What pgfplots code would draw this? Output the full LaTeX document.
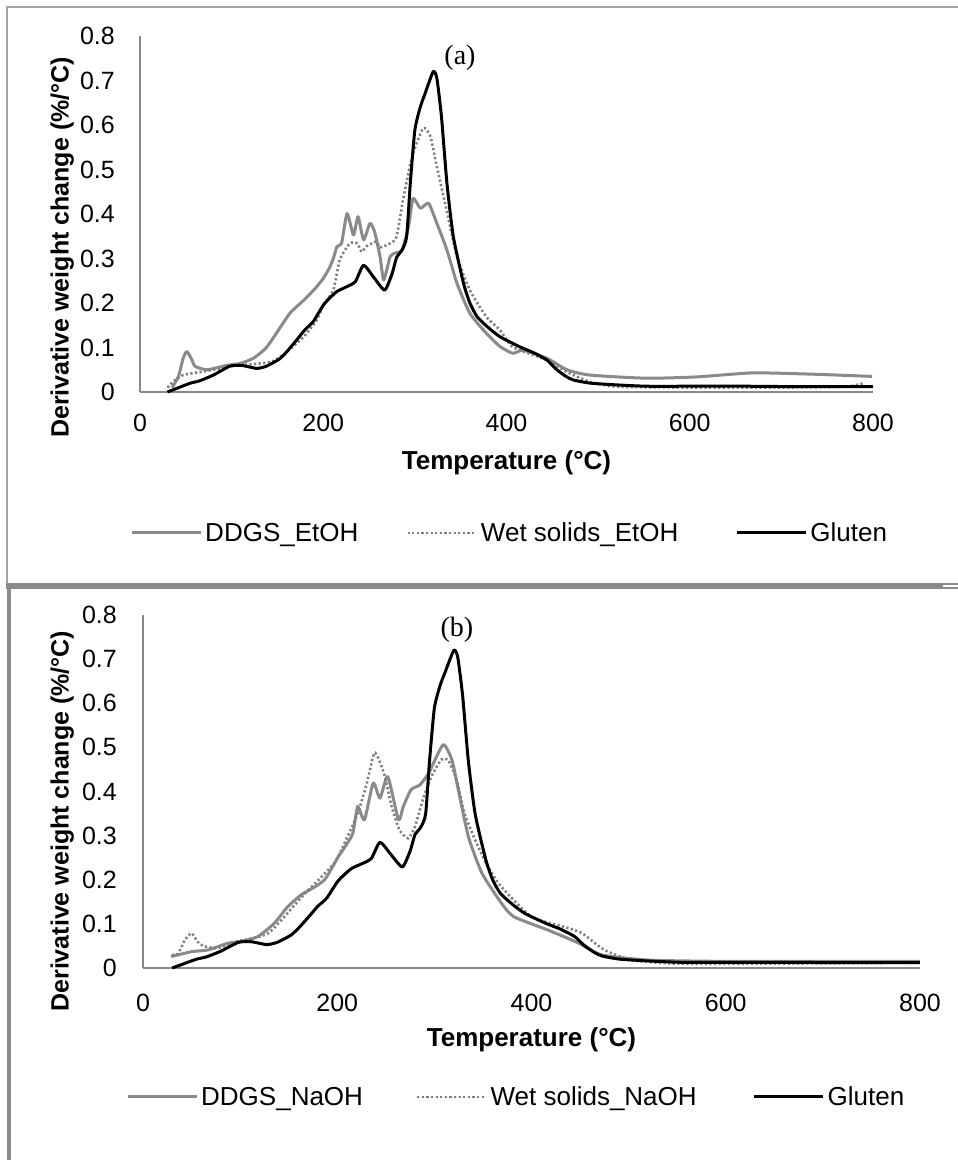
\documentclass[border=0pt]{standalone}
\usepackage{pgfplots}
\pgfplotsset{compat=1.18}
\usepackage{pgfplotstable}
\usepackage{fontspec}
\setmainfont{Liberation Sans}
\newfontfamily\seriffont{Liberation Serif}
\definecolor{ddgs}{RGB}{138,138,138}
\definecolor{wet}{RGB}{128,128,128}
\definecolor{axisgray}{RGB}{137,137,137}
\definecolor{framegray}{RGB}{165,165,165}
\definecolor{bandgray}{RGB}{138,138,138}

\pgfplotstableread{
T v
30 0
40 0.008
55 0.02
65 0.025
80 0.038
98 0.058
110 0.06
120 0.056
128 0.053
138 0.058
152 0.074
160 0.09
171 0.117
180 0.14
189 0.158
200 0.195
207 0.211
215 0.226
225 0.236
235 0.248
244 0.285
255 0.258
267 0.229
275 0.265
280 0.302
286 0.319
291 0.349
295 0.469
300 0.589
306 0.641
311 0.67
320 0.72
324 0.705
329 0.619
335 0.469
342 0.349
353 0.245
360 0.2
368 0.169
380 0.145
393 0.124
415 0.101
430 0.088
444 0.072
450 0.06
455 0.05
465 0.035
473 0.027
491 0.02
520 0.016
553 0.013
600 0.013
662 0.013
720 0.012
800 0.012
}\gluten

\pgfplotstableread{
T v
35 0.01
42 0.035
47 0.075
51 0.091
56 0.075
60 0.058
73 0.05
95 0.06
109 0.064
124 0.076
138 0.1
153 0.145
164 0.178
178 0.205
190 0.23
200 0.255
207 0.28
211 0.3
215 0.327
220 0.334
226 0.401
233 0.353
238 0.394
244 0.342
251 0.379
256 0.36
262 0.304
266 0.252
273 0.304
278 0.312
286 0.319
293 0.371
298 0.435
306 0.413
315 0.424
324 0.379
335 0.319
346 0.244
360 0.177
378 0.132
393 0.102
407 0.087
418 0.094
444 0.076
466 0.05
491 0.038
553 0.031
608 0.034
669 0.043
735 0.04
799 0.035
}\ddgsEtOH

\pgfplotstableread{
T v
30 0.01
36 0.023
47 0.038
66 0.045
80 0.05
100 0.058
130 0.064
146 0.07
160 0.09
175 0.117
182 0.132
193 0.162
200 0.195
211 0.229
218 0.297
229 0.334
237 0.334
242 0.315
247 0.327
258 0.338
262 0.325
273 0.334
280 0.349
287 0.431
297 0.529
309 0.593
317 0.574
324 0.506
333 0.424
346 0.304
360 0.229
378 0.169
393 0.139
407 0.101
444 0.072
466 0.045
491 0.023
520 0.012
600 0.01
700 0.01
770 0.012
790 0.02
}\wetEtOH

\pgfplotstableread{
T v
29 0.026
50 0.037
67 0.041
87 0.056
101 0.06
118 0.071
135 0.101
149 0.139
163 0.166
177 0.184
187 0.2
194 0.225
201 0.252
208 0.275
216 0.305
221 0.366
228 0.336
237 0.419
244 0.385
252 0.434
263 0.336
268 0.366
276 0.404
285 0.415
294 0.441
309 0.506
318 0.472
324 0.411
335 0.298
349 0.215
369 0.147
382 0.116
417 0.086
448 0.057
472 0.03
520 0.018
600 0.015
700 0.015
800 0.015
}\ddgsNaOH

\pgfplotstableread{
T v
30 0.03
36 0.032
43 0.063
50 0.079
56 0.06
62 0.05
77 0.045
94 0.059
129 0.079
163 0.16
197 0.238
211 0.3
221 0.35
230 0.415
238 0.487
243 0.472
249 0.434
256 0.366
264 0.313
273 0.294
280 0.32
288 0.381
297 0.434
307 0.472
314 0.472
323 0.426
331 0.351
342 0.29
355 0.23
369 0.184
400 0.116
434 0.093
452 0.079
475 0.041
503 0.018
550 0.01
650 0.01
800 0.012
}\wetNaOH

\pgfplotsset{
  tgastyle/.style={
    scale only axis, clip=false,
    xmin=0, xmax=800, ymin=0, ymax=0.8,
    axis x line*=bottom, axis y line*=left,
    axis line style={axisgray, line width=1.5pt, -},
    xtick={0,200,400,600,800},
    ytick={0,0.1,0.2,0.3,0.4,0.5,0.6,0.7,0.8},
    major tick length=0pt,
    tick label style={font=\fontsize{25}{30}\selectfont, /pgf/number format/assume math mode=true},
    yticklabel style={/pgf/number format/fixed, /pgf/number format/precision=1, inner sep=0pt, anchor=east},
    xticklabel style={inner sep=0pt, anchor=north},
    xlabel={Temperature (°C)},
    ylabel={Derivative weight change (\%/°C)},
    xlabel style={font=\bfseries\fontsize{26}{31}\selectfont},
    ylabel style={font=\bfseries\fontsize{25}{30}\selectfont},
    legend columns=3,
    legend image code/.code={\draw[##1] (0pt,0pt) -- (69pt,0pt);},
    legend style={draw=none, fill=none, inner sep=0pt, anchor=west,
      font=\fontsize{26}{31}\selectfont,
      nodes={inner xsep=3pt, inner ysep=0pt},
      /tikz/column 2/.style={column sep=45pt},
      /tikz/column 4/.style={column sep=54pt}},
    title style={font=\seriffont\fontsize{28}{33}\selectfont, anchor=center},
  },
  sDDGS/.style={ddgs, line width=3pt, smooth, tension=0.35, line join=round},
  sWET/.style={wet, line width=2.6pt, dash pattern=on 2.2pt off 2.4pt, smooth, tension=0.35},
  sGLU/.style={black, line width=3pt, smooth, tension=0.35, line join=round},
}

\begin{document}
\begin{tikzpicture}
\useasboundingbox (0pt,0pt) rectangle (958pt,-1160pt);
\fill[white] (0pt,0pt) rectangle (958pt,-1160pt);
% panel frames
\draw[framegray, line width=1.5pt] (960pt,-7pt) -- (7pt,-7pt) -- (7pt,-583pt);
\fill[bandgray] (6pt,-582.5pt) rectangle (958pt,-589pt);
\draw[white, line width=1.2pt] (943pt,-586pt) -- (958pt,-586pt);
\draw[bandgray, line width=3.5pt] (9pt,-589pt) -- (9pt,-1162pt);

% panel (a)
\begin{axis}[tgastyle,
  at={(140pt,-392pt)}, anchor=south west,
  width=733pt, height=356pt,
  yticklabel style={xshift=-25pt},
  xticklabel style={yshift=-22pt},
  xlabel style={at={(axis description cs:0.5,0)}, anchor=center, yshift=-71pt},
  ylabel style={at={(axis description cs:-0.106,0.406)}, anchor=center},
  legend style={at={(axis description cs:-0.0136,-0.396)}},
  title={(a)},
  title style={at={(axis description cs:0.4366,0.921)}},
]
\addplot[sDDGS] table[x=T,y=v] {\ddgsEtOH};
\addlegendentry{DDGS\_EtOH}
\addplot[sWET] table[x=T,y=v] {\wetEtOH};
\addlegendentry{Wet solids\_EtOH}
\addplot[sGLU] table[x=T,y=v] {\gluten};
\addlegendentry{Gluten}
\end{axis}

% panel (b)
\begin{axis}[tgastyle,
  at={(143pt,-968pt)}, anchor=south west,
  width=777pt, height=353pt,
  yticklabel style={xshift=-26pt},
  xticklabel style={yshift=-26pt},
  xlabel style={at={(axis description cs:0.5,0)}, anchor=center, yshift=-72pt},
  ylabel style={at={(axis description cs:-0.104,0.416)}, anchor=center},
  legend style={at={(axis description cs:-0.0219,-0.365)}},
  legend style={/tikz/column 2/.style={column sep=50pt}, /tikz/column 4/.style={column sep=53pt}},
  title={(b)},
  title style={at={(axis description cs:0.404,0.940)}},
]
\addplot[sDDGS] table[x=T,y=v] {\ddgsNaOH};
\addlegendentry{DDGS\_NaOH}
\addplot[sWET] table[x=T,y=v] {\wetNaOH};
\addlegendentry{Wet solids\_NaOH}
\addplot[sGLU] table[x=T,y=v] {\gluten};
\addlegendentry{Gluten}
\end{axis}
\end{tikzpicture}
\end{document}
